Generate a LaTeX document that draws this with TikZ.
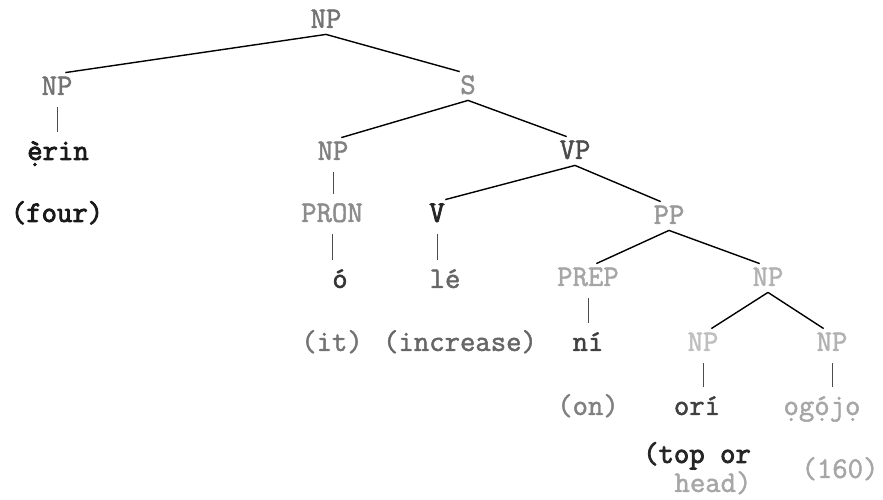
\documentclass[tikz,border=0pt]{standalone}
\usepackage{fontspec}
\usetikzlibrary{positioning}
\newfontfamily\typer{Latin Modern Mono}[RawFeature={embolden=1.6}]
\newfontfamily\typerb{Latin Modern Mono}[RawFeature={embolden=2.8}]
\tikzset{
  lab/.style={font=\fontsize{17}{19}\selectfont\typer, text height=11pt, text depth=2pt, inner sep=1.5pt},
  branch/.style={line width=.8pt},
  stem/.style={line width=.5pt, black!70, shorten <=.12cm, shorten >=.12cm},
}
\begin{document}
\begin{tikzpicture}[x=0.02cm, y=-0.02cm]
    \useasboundingbox (0,0) rectangle (883,500);

    % categories
    \node[lab,black!55] (nptop) at (326,20) {NP};
    \node[lab,black!55] (npl) at (57,87) {NP};
    \node[lab,black!45] (s) at (468,86) {S};
    \node[lab,black!50] (npm) at (333,152) {NP};
    \node[lab,black!70] (vp) at (575,151) {VP};
    \node[lab,black!45] (pron) at (332,214) {PRON};
    \node[lab,black!85] (v) at (437,214) {\typerb V};
    \node[lab,black!40] (pp) at (669,216) {PP};
    \node[lab,black!35] (prep) at (588,278) {PREP};
    \node[lab,black!30] (nppp) at (768,278) {NP};
    \node[lab,black!25] (npori) at (703,343) {NP};
    \node[lab,black!30] (npog) at (832,343) {NP};

    % words
    \node[lab,black!90] (erin) at (58,152) {\typerb ẹ̀rin};
    \node[lab,black!80] (o) at (340,280) {ó};
    \node[lab,black!60] (le) at (445,280) {lé};
    \node[lab,black!75] (ni) at (588,343) {ní};
    \node[lab,black!75] (ori) at (697,407) {orí};
    \node[lab,black!35] (ogojo) at (822,407) {ọgọ́jọ};

    % glosses
    \node[lab,black!90] (four) at (57,214) {\typerb (four)};
    \node[lab,black!55] (it) at (332,343) {(it)};
    \node[lab,black!60] (incr) at (460,343) {(increase)};
    \node[lab,black!50] (on) at (588,407) {(on)};
    \node[lab,black!85] (topor) at (697,455) {\typerb (top or};
    \node[lab,black!35] (head) at (713,484) {head)};
    \node[lab,black!35] (sixty) at (840,470) {(160)};

    % branches
    \draw[branch] (nptop.south) -- (npl.60);
    \draw[branch] (nptop.south) -- (s.120);
    \draw[branch] (s.south) -- (npm.60);
    \draw[branch] (s.south) -- (vp.120);
    \draw[branch] (vp.south) -- (v.60);
    \draw[branch] (vp.south) -- (pp.120);
    \draw[branch] (pp.south) -- (prep.60);
    \draw[branch] (pp.south) -- (nppp.120);
    \draw[branch] (nppp.south) -- (npori.60);
    \draw[branch] (nppp.south) -- (npog.120);

    % stems
    \draw[stem] (npl.south) -- (npl.south |- erin.north);
    \draw[stem] (npm.south) -- (npm.south |- pron.north);
    \draw[stem] (pron.south) -- (pron.south |- o.north);
    \draw[stem] (v.south) -- (v.south |- le.north);
    \draw[stem] (prep.south) -- (prep.south |- ni.north);
    \draw[stem] (npori.south) -- (npori.south |- ori.north);
    \draw[stem] (npog.south) -- (npog.south |- ogojo.north);
\end{tikzpicture}
\end{document}
